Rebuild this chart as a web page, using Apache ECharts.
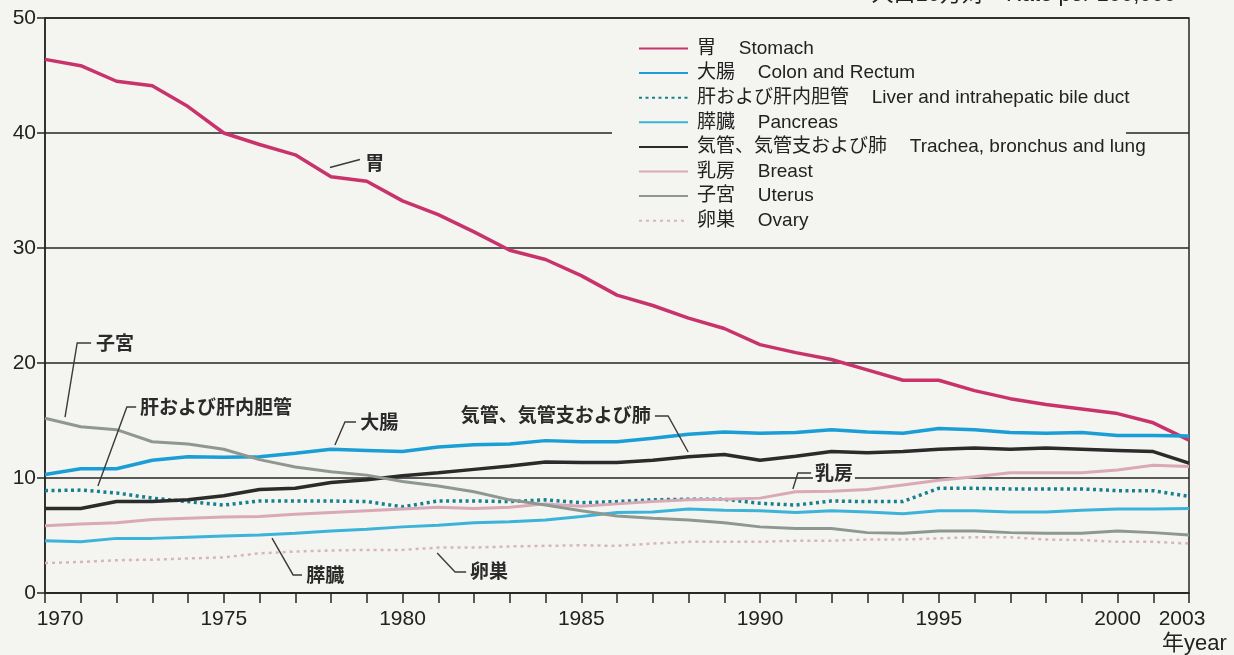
<!DOCTYPE html>
<html>
<head>
<meta charset="utf-8">
<script src="https://cdn.jsdelivr.net/npm/echarts@6/dist/echarts.min.js"></script>
<style>
  html, body { margin: 0; padding: 0; background: #f4f4f0; }
  #chart { width: 1234px; height: 655px; }
</style>
</head>
<body>
<div id="chart"></div>
<script>
// years on the axis (2002 is not in the source table)
const years = ['1970', '1971', '1972', '1973', '1974', '1975', '1976', '1977', '1978', '1979',
  '1980', '1981', '1982', '1983', '1984', '1985', '1986', '1987', '1988', '1989',
  '1990', '1991', '1992', '1993', '1994', '1995', '1996', '1997', '1998', '1999',
  '2000', '2001', '2003'];
const tickYears = ['1970', '1975', '1980', '1985', '1990', '1995', '2000', '2003'];

// rate per 100,000
const stomach = [46.4, 45.85, 44.5, 44.1, 42.3, 40.0, 39.0, 38.1, 36.2, 35.8,
  34.1, 32.9, 31.4, 29.8, 29.0, 27.6, 25.9, 25.0, 23.9, 23.0,
  21.6, 20.9, 20.3, 19.4, 18.5, 18.5, 17.6, 16.9, 16.4, 16.0,
  15.6, 14.8, 13.3];
const colon = [10.3, 10.8, 10.8, 11.55, 11.85, 11.8, 11.85, 12.15, 12.5, 12.4,
  12.3, 12.7, 12.9, 12.95, 13.25, 13.15, 13.15, 13.45, 13.8, 14.0,
  13.9, 13.95, 14.2, 14.0, 13.9, 14.3, 14.2, 13.95, 13.9, 13.95,
  13.7, 13.7, 13.65];
const liver = [8.9, 8.95, 8.7, 8.25, 7.95, 7.65, 8.0, 8.0, 8.0, 7.95,
  7.5, 8.0, 8.0, 7.95, 8.1, 7.85, 7.95, 8.1, 8.15, 8.15,
  7.8, 7.65, 8.0, 7.95, 7.95, 9.1, 9.1, 9.05, 9.05, 9.05,
  8.9, 8.9, 8.4];
const pancreas = [4.55, 4.45, 4.75, 4.75, 4.85, 4.95, 5.05, 5.2, 5.4, 5.55,
  5.75, 5.9, 6.1, 6.2, 6.35, 6.65, 7.0, 7.05, 7.3, 7.2,
  7.15, 7.0, 7.15, 7.05, 6.9, 7.15, 7.15, 7.05, 7.05, 7.2,
  7.3, 7.3, 7.35];
const lung = [7.35, 7.35, 7.95, 7.95, 8.1, 8.45, 9.0, 9.1, 9.6, 9.85,
  10.2, 10.45, 10.75, 11.05, 11.4, 11.35, 11.35, 11.55, 11.85, 12.05,
  11.55, 11.9, 12.3, 12.2, 12.3, 12.5, 12.6, 12.5, 12.6, 12.5,
  12.4, 12.3, 11.3];
const breast = [5.85, 6.0, 6.1, 6.4, 6.5, 6.6, 6.65, 6.85, 7.0, 7.15,
  7.3, 7.45, 7.35, 7.45, 7.75, 7.55, 7.75, 7.95, 8.1, 8.15,
  8.25, 8.8, 8.85, 9.0, 9.4, 9.8, 10.1, 10.45, 10.45, 10.45,
  10.7, 11.1, 11.0];
const uterus = [15.2, 14.45, 14.2, 13.15, 12.95, 12.5, 11.6, 10.95, 10.55, 10.25,
  9.7, 9.3, 8.8, 8.1, 7.65, 7.15, 6.7, 6.5, 6.35, 6.1,
  5.75, 5.6, 5.6, 5.25, 5.2, 5.4, 5.4, 5.25, 5.2, 5.2,
  5.4, 5.25, 5.05];
const ovary = [2.6, 2.7, 2.85, 2.9, 3.0, 3.1, 3.45, 3.6, 3.7, 3.75,
  3.75, 3.95, 3.95, 4.05, 4.1, 4.15, 4.1, 4.3, 4.45, 4.45,
  4.45, 4.55, 4.55, 4.65, 4.65, 4.75, 4.85, 4.85, 4.65, 4.6,
  4.45, 4.45, 4.3];

const SEP = '\u3000\u2009';
const BG = '#f4f4f0';
const NUM_FONT = "'Liberation Sans', Arial, sans-serif";
const TXT_FONT = "'Liberation Sans', Arial, 'Noto Sans CJK JP', sans-serif";
const JP_FONT = "'Noto Sans CJK JP', sans-serif";

// inline labels with leader lines, in [year index, value] coords
const notes = [
  { text: '胃', path: [[7.97, 37.0], [8.81, 37.7]], at: [8.9, 37.4] },
  { text: '子宮', path: [[0.56, 15.3], [0.9, 21.74], [1.29, 21.74]], at: [1.37, 21.74] },
  { text: '肝および肝内胆管', path: [[1.48, 9.3], [2.29, 16.17], [2.55, 16.17]], at: [2.6, 16.17] },
  { text: '大腸', path: [[8.11, 12.87], [8.39, 14.87], [8.7, 14.87]], at: [8.76, 14.87] },
  { text: '膵臓', path: [[6.35, 4.78], [6.94, 1.57], [7.19, 1.57]], at: [7.25, 1.57] },
  { text: '気管、気管支および肺', path: [[17.06, 15.39], [17.43, 15.39], [17.99, 12.26]], at: [17.0, 15.48], right: true },
  { text: '卵巣', path: [[10.97, 3.48], [11.47, 1.83], [11.78, 1.83]], at: [11.83, 1.91] },
  { text: '乳房', path: [[20.92, 9.04], [21.06, 10.43], [21.43, 10.43]], at: [21.48, 10.43] }
];

function line(name, data, color, width, type) {
  return {
    name: name,
    type: 'line',
    data: data,
    symbol: 'none',
    showSymbol: false,
    smooth: false,
    lineStyle: { color: color, width: width, type: type || 'solid', cap: 'butt' },
    itemStyle: { color: color },
    emphasis: { disabled: true }
  };
}

const chart = echarts.init(document.getElementById('chart'), null, { renderer: 'canvas' });

const option = {
  backgroundColor: BG,
  animation: false,
  grid: {
    left: 45, right: 45, top: 18, bottom: 62,
    show: true, borderColor: '#262626', borderWidth: 1.5, backgroundColor: 'transparent'
  },
  legend: {
    orient: 'vertical',
    left: 638,
    top: 39,
    padding: 0,
    itemWidth: 49,
    itemHeight: 14,
    itemGap: 5.6,
    itemStyle: { opacity: 0 },
    textStyle: { fontSize: 19, color: '#222', fontFamily: TXT_FONT, padding: [0, 0, 0, 4] },
    selectedMode: false
  },
  xAxis: {
    type: 'category',
    data: years,
    boundaryGap: false,
    axisLine: { lineStyle: { color: '#262626', width: 1.5 } },
    axisTick: { interval: 0, length: 10, lineStyle: { color: '#262626', width: 1.5 } },
    axisLabel: {
      interval: (i, v) => tickYears.includes(v),
      margin: 16,
      fontSize: 21,
      color: '#222',
      fontFamily: NUM_FONT,
      formatter: (v) => v === years[0] ? '{first|' + v + '}' : (v === years[years.length - 1] ? '{last|' + v + '}' : v),
      rich: {
        first: { fontSize: 21, fontFamily: NUM_FONT, color: '#222', padding: [0, 0, 0, 30] },
        last: { fontSize: 21, fontFamily: NUM_FONT, color: '#222', padding: [0, 14, 0, 0] }
      }
    },
    splitLine: { show: false }
  },
  yAxis: {
    type: 'value',
    min: 0,
    max: 50,
    interval: 10,
    axisLine: { show: true, lineStyle: { color: '#262626', width: 1.5 } },
    axisTick: { show: true, length: 8, lineStyle: { color: '#262626', width: 1.5 } },
    axisLabel: { fontSize: 21, color: '#222', fontFamily: NUM_FONT, margin: 9 },
    splitLine: { lineStyle: { color: '#262626', width: 1.5 } }
  },
  series: [
    line('胃' + SEP + 'Stomach', stomach, '#c9336c', 3.5),
    line('大腸' + SEP + 'Colon and Rectum', colon, '#1b9ed6', 3.5),
    line('肝および肝内胆管' + SEP + 'Liver and intrahepatic bile duct', liver, '#17808f', 3.5, [3, 3.5]),
    line('膵臓' + SEP + 'Pancreas', pancreas, '#3cb3d9', 3),
    line('気管、気管支および肺' + SEP + 'Trachea, bronchus and lung', lung, '#2b2b2b', 3.5),
    line('乳房' + SEP + 'Breast', breast, '#d9a9b8', 3),
    line('子宮' + SEP + 'Uterus', uterus, '#8e9891', 3),
    line('卵巣' + SEP + 'Ovary', ovary, '#d6b6be', 2.5, [3, 4])
  ]
};

chart.setOption(option);

// category axis snaps to whole indices, so interpolate x between the end ticks
const xFirst = chart.convertToPixel({ xAxisIndex: 0 }, 0);
const xLast = chart.convertToPixel({ xAxisIndex: 0 }, years.length - 1);
const toPx = (p) => [
  xFirst + p[0] * (xLast - xFirst) / (years.length - 1),
  chart.convertToPixel({ yAxisIndex: 0 }, p[1])
];

const graphics = [
  // legend area masks the 40 grid line
  { type: 'rect', z: 1, silent: true, shape: { x: 612, y: 26, width: 514, height: 214 }, style: { fill: BG } },
  {
    type: 'text', z: 10, silent: true, x: 1176, y: -5,
    style: { text: '人口10万対\u3000Rate per 100,000', align: 'right', verticalAlign: 'middle', fontSize: 22, fill: '#222', fontFamily: TXT_FONT }
  },
  {
    type: 'text', z: 10, silent: true, x: 1162, y: 644,
    style: { text: '年year', align: 'left', verticalAlign: 'middle', fontSize: 22, fill: '#222', fontFamily: TXT_FONT }
  }
];
notes.forEach((n) => {
  graphics.push({
    type: 'polyline', z: 10, silent: true,
    shape: { points: n.path.map(toPx) },
    style: { stroke: '#3a3a3a', lineWidth: 1.4, fill: null }
  });
  const at = toPx(n.at);
  graphics.push({
    type: 'text', z: 11, silent: true, x: at[0], y: at[1],
    style: {
      text: n.text, align: n.right ? 'right' : 'left', verticalAlign: 'middle',
      fontSize: 19, fontWeight: 'bold', fill: '#2a2a2a', fontFamily: JP_FONT,
      backgroundColor: BG, padding: [1, 2]
    }
  });
});
chart.setOption({ graphic: graphics });

window.addEventListener('resize', () => chart.resize());
</script>
</body>
</html>
